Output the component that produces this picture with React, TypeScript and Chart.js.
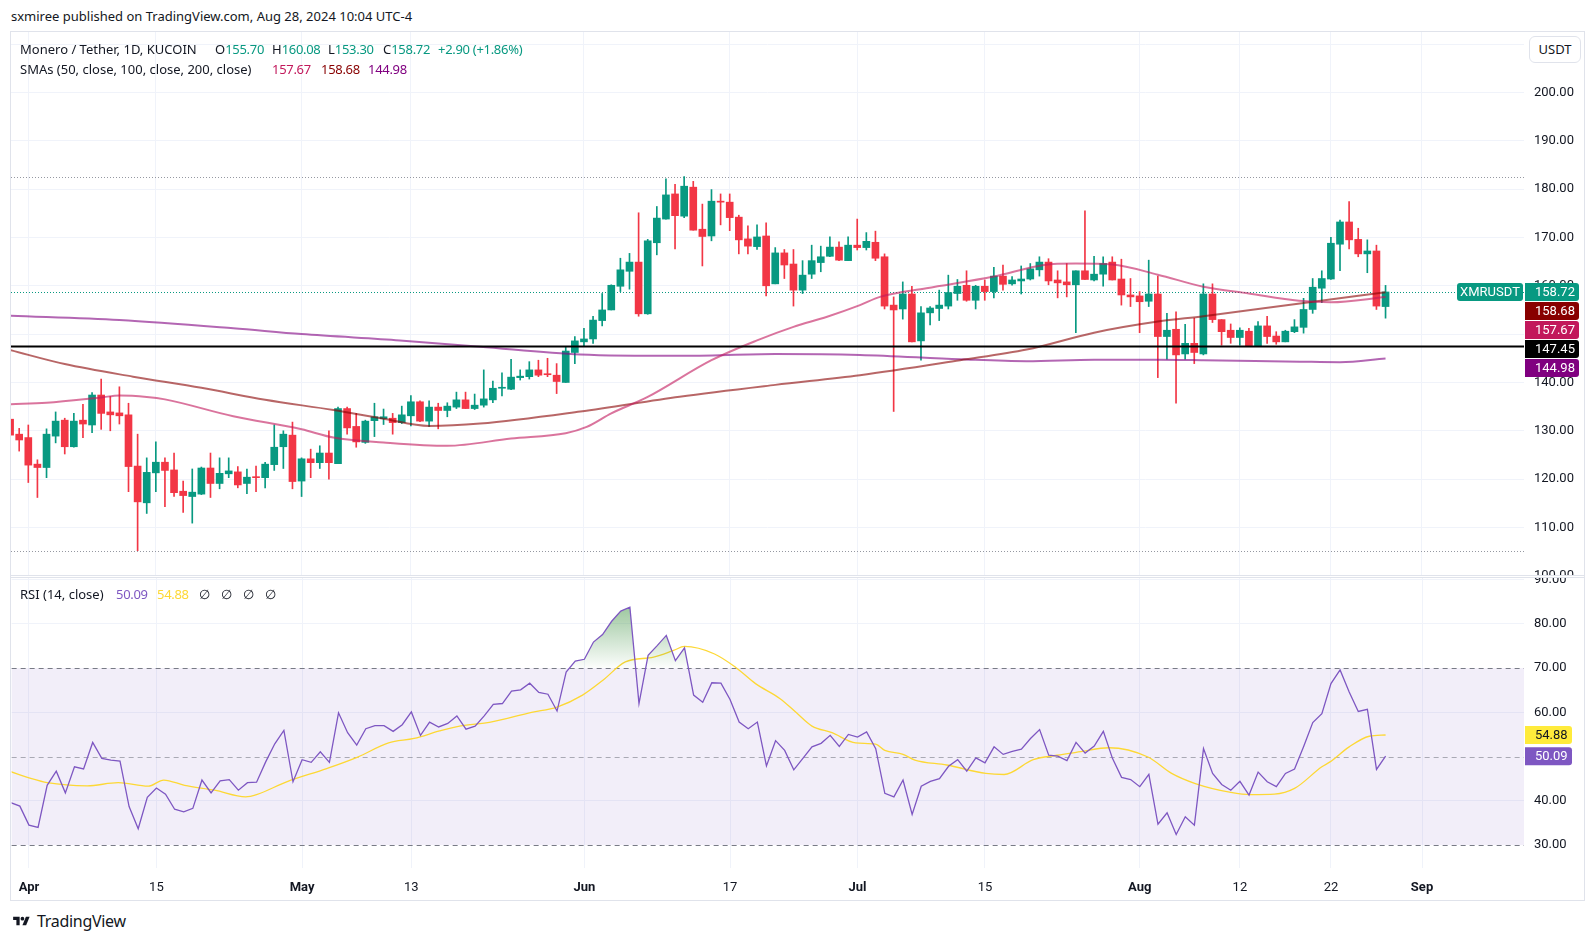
import React, { useEffect, useRef } from "react";
import { Chart, registerables } from "chart.js";

Chart.register(...registerables);

// ---------- data (day index 0 = 2024-03-30) ----------
const START_DATE = "2024-03-30";
const OPEN = [
  132.4, 129.3, 128.6, 123.1, 122.4, 128.9, 132.2, 126.7, 132.2, 131.2,
  137.4, 133.9, 133.7, 133.3, 122.7, 115.1, 121.3, 123.5, 121.9, 117.5,
  116.4, 116.9, 122.3, 119.1, 121.1, 121.5, 119.1, 120.4, 120.3, 123.0,
  126.7, 129.1, 119.6, 124.2, 123.4, 125.4, 123.2, 134.6, 130.9, 127.6,
  132.1, 132.5, 132.6, 131.7, 133.1, 136.0, 132.0, 134.9, 134.2, 134.9,
  136.4, 134.6, 135.3, 136.4, 138.8, 138.6, 141.0, 141.2, 142.6, 141.7,
  141.5, 140.0, 146.2, 148.4, 149.0, 152.8, 155.0, 159.9, 163.0, 164.9,
  154.2, 168.9, 173.8, 179.0, 174.4, 180.4, 171.7, 170.3, 177.5, 177.3,
  174.2, 169.7, 168.1, 170.3, 160.4, 166.8, 164.5, 159.1, 162.4, 164.8,
  166.1, 168.0, 165.2, 168.4, 167.9, 169.0, 166.0, 156.0, 155.2, 158.3,
  148.6, 154.4, 155.3, 155.8, 158.4, 160.1, 157.0, 159.9, 158.8, 162.0,
  160.4, 161.0, 161.4, 163.3, 164.9, 161.2, 160.8, 160.2, 163.1, 161.2,
  162.4, 164.9, 161.4, 158.1, 157.9, 156.8, 158.3, 149.5, 151.0, 145.9,
  148.1, 145.9, 158.3, 153.0, 150.8, 149.3, 150.6, 147.6, 151.7, 149.6,
  148.4, 150.5, 151.4, 155.1, 159.5, 161.4, 168.6, 173.2, 169.6, 166.6,
  167.2, 155.7,
];
const HIGH = [
  132.6, 130.5, 131.2, 124.0, 130.4, 133.9, 132.6, 133.6, 135.5, 137.9,
  140.7, 137.1, 139.1, 135.7, 129.3, 124.4, 127.7, 124.4, 125.4, 119.6,
  122.1, 122.5, 125.4, 124.4, 124.4, 122.6, 122.1, 122.7, 123.5, 131.2,
  130.0, 131.8, 124.4, 126.2, 126.9, 130.0, 134.9, 134.9, 133.6, 132.2,
  135.7, 134.5, 133.6, 135.1, 137.3, 136.2, 136.2, 135.7, 135.8, 138.0,
  138.0, 137.6, 142.6, 140.3, 142.0, 144.8, 142.6, 144.3, 144.6, 145.0,
  143.9, 147.4, 149.5, 151.2, 153.7, 158.4, 160.2, 165.7, 166.7, 175.1,
  169.6, 176.4, 182.1, 181.0, 182.6, 181.6, 176.9, 179.9, 179.0, 179.0,
  174.6, 172.4, 172.6, 173.0, 167.9, 167.5, 167.5, 165.2, 168.4, 168.2,
  170.1, 169.1, 170.1, 173.8, 171.0, 171.3, 166.6, 157.7, 160.8, 159.9,
  155.7, 155.7, 159.1, 162.2, 161.3, 163.1, 160.1, 161.2, 163.8, 164.3,
  161.9, 164.1, 164.6, 166.0, 165.6, 163.1, 164.6, 163.1, 175.5, 166.1,
  166.0, 166.0, 165.5, 161.5, 158.8, 165.3, 162.0, 154.3, 154.6, 152.0,
  153.3, 160.4, 160.4, 153.0, 152.1, 151.3, 151.2, 152.6, 153.7, 150.5,
  150.8, 153.0, 157.4, 161.5, 163.1, 170.0, 173.6, 177.4, 171.9, 169.5,
  168.4, 160.08,
];
const LOW = [
  128.9, 125.8, 119.3, 116.2, 120.3, 127.5, 125.2, 126.6, 128.6, 129.6,
  130.3, 130.0, 131.4, 117.4, 105.2, 112.9, 117.4, 114.3, 116.4, 113.1,
  110.9, 116.8, 116.2, 118.0, 120.3, 118.2, 117.0, 117.4, 118.2, 121.8,
  122.2, 118.0, 116.4, 120.3, 122.2, 120.0, 123.2, 129.3, 126.6, 127.4,
  128.8, 131.3, 129.3, 131.5, 131.0, 131.9, 130.9, 130.4, 132.9, 134.6,
  134.6, 134.4, 134.9, 135.8, 137.2, 138.5, 140.5, 140.7, 141.2, 141.2,
  137.7, 140.0, 143.9, 147.4, 148.1, 151.7, 155.0, 158.8, 159.3, 153.7,
  154.1, 166.4, 173.8, 167.6, 174.1, 171.5, 164.1, 169.3, 172.6, 171.4,
  166.6, 166.6, 167.5, 157.9, 160.4, 161.5, 155.8, 158.4, 161.5, 162.9,
  166.0, 165.2, 165.2, 167.4, 167.4, 165.2, 155.2, 134.0, 153.1, 148.4,
  144.6, 151.9, 152.8, 155.2, 157.0, 156.8, 155.2, 157.0, 157.5, 159.1,
  160.1, 158.3, 161.2, 162.0, 160.2, 157.5, 157.7, 150.3, 161.3, 161.0,
  159.9, 161.2, 156.0, 155.7, 150.3, 155.7, 141.0, 144.8, 135.7, 144.8,
  143.9, 145.7, 152.4, 147.7, 148.1, 147.7, 147.6, 147.6, 148.1, 147.9,
  148.4, 150.3, 150.2, 154.3, 156.5, 161.3, 163.1, 167.6, 166.0, 162.7,
  155.1, 153.3,
];
const CLOSE = [
  129.1, 128.1, 122.9, 122.4, 129.3, 132.0, 126.7, 132.0, 131.4, 137.4,
  133.6, 133.3, 133.1, 122.6, 115.3, 121.4, 123.5, 121.8, 117.2, 116.6,
  117.3, 122.3, 119.1, 121.2, 121.7, 118.8, 120.4, 120.3, 123.1, 126.6,
  129.3, 119.5, 124.2, 123.4, 125.4, 123.4, 134.6, 130.6, 127.7, 132.0,
  132.9, 132.9, 131.7, 133.3, 136.0, 132.0, 134.9, 134.2, 135.1, 136.4,
  134.6, 135.3, 136.6, 138.8, 139.0, 141.1, 141.3, 142.6, 141.5, 141.6,
  140.2, 146.5, 148.6, 149.0, 152.9, 155.0, 160.1, 163.3, 164.9, 154.2,
  169.3, 174.0, 178.8, 174.5, 180.6, 171.5, 170.2, 177.5, 177.3, 174.1,
  169.5, 168.2, 170.1, 160.0, 166.8, 164.3, 159.1, 162.2, 165.2, 166.0,
  168.0, 165.3, 168.4, 167.9, 169.2, 165.7, 155.8, 155.0, 158.3, 148.4,
  154.4, 155.4, 156.0, 158.6, 159.9, 157.0, 159.9, 158.8, 162.0, 160.3,
  161.2, 161.4, 163.5, 164.9, 161.0, 160.6, 160.2, 163.1, 161.3, 162.4,
  164.6, 161.2, 158.1, 157.7, 156.7, 158.3, 149.5, 150.8, 145.7, 148.1,
  146.2, 158.3, 153.0, 150.5, 149.3, 150.8, 147.6, 151.7, 149.5, 148.4,
  150.6, 151.5, 155.1, 159.7, 161.5, 168.8, 173.2, 169.5, 166.6, 167.2,
  155.8, 158.72,
];

// SMA lines read at sample days: [day, value]
const SMA50 = [
  [0, 135.5], [4, 135.8], [10, 136.9], [12, 137.3], [15, 137.0], [17, 136.5],
  [24.5, 133.0], [32, 130.3], [35.5, 128.6], [41, 127.6], [48, 126.9], [55, 128.4],
  [61, 129.5], [63.3, 130.8], [66, 133.6], [70, 137.0], [77, 144.6], [82, 148.7],
  [86, 151.5], [89.7, 153.6], [93.3, 156.0], [95.5, 157.7], [100.6, 159.5], [108, 161.9],
  [113.5, 164.3], [117, 164.6], [121, 164.4], [126, 162.3], [131, 159.8], [136, 158.4],
  [141.5, 156.9], [145, 156.6], [151, 157.67],
];
const SMA100 = [
  [0, 146.7], [6, 143.8], [13.5, 141.2], [21, 138.9], [28, 136.4], [35.5, 134.3],
  [41, 132.5], [46, 131.0], [51.6, 131.5], [62.6, 134.0], [73.5, 137.05], [84, 139.5],
  [93.3, 141.5], [104.3, 144.6], [111.6, 146.8], [119, 150.3], [126, 152.6], [131, 153.7],
  [141.6, 156.35], [151, 158.68],
];
const SMA200 = [
  [0, 153.8], [12, 152.9], [24.5, 151.2], [32, 150.0], [42.8, 148.7], [51.6, 147.4],
  [62.6, 145.8], [73.5, 145.5], [84, 145.9], [93.3, 145.7], [104.3, 144.8], [111.6, 144.4],
  [119, 144.7], [126, 144.7], [131, 144.6], [141.6, 144.3], [146, 144.2], [151, 144.98],
];

const RSI = [
  39.6, 38.8, 34.5, 34.0, 43.5, 46.7, 41.8, 47.7, 47.2, 53.2,
  49.6, 49.2, 49.0, 38.7, 33.7, 40.8, 42.9, 41.5, 38.1, 37.5,
  38.3, 44.7, 41.8, 44.5, 44.8, 42.4, 44.1, 44.2, 48.8, 52.9,
  55.9, 44.3, 49.3, 48.7, 51.1, 48.7, 59.9, 55.4, 52.6, 56.3,
  57.0, 57.0, 55.7, 57.2, 60.1, 54.8, 57.8, 56.7, 57.5, 59.2,
  56.2, 56.9, 59.2, 61.8, 62.0, 64.8, 65.1, 66.6, 64.5, 64.1,
  60.3, 69.1, 71.6, 72.0, 75.9, 77.6, 80.6, 82.9, 83.8, 62.0,
  72.9, 75.1, 77.4, 71.7, 74.6, 63.9, 62.3, 66.7, 66.6, 62.9,
  57.8, 56.3, 57.8, 47.9, 53.6, 51.4, 47.0, 49.6, 52.2, 53.0,
  54.8, 52.3, 55.0, 54.4, 55.6, 51.8, 41.7, 40.9, 44.7, 36.9,
  43.3, 44.4, 45.0, 47.8, 49.3, 46.7, 49.7, 48.6, 52.2, 50.5,
  51.2, 51.7, 54.1, 56.1, 50.3, 50.1, 49.1, 53.2, 50.8, 52.4,
  55.7, 49.6, 45.3, 44.8, 43.2, 46.0, 34.7, 37.3, 32.4, 36.4,
  34.5, 51.8, 46.2, 43.7, 42.4, 44.4, 41.3, 46.5, 44.3, 43.2,
  46.2, 47.2, 52.3, 57.7, 59.7, 66.5, 69.6, 64.6, 60.2, 60.7,
  47.1, 50.09,
];
const RSI_MA = [
  [0, 46.6], [2.3, 45.0], [4, 44.1], [8.4, 43.4], [11.8, 44.1], [15.1, 43.3],
  [16.8, 44.7], [19.1, 43.5], [22.4, 42.4], [25.8, 40.9], [27, 41.4], [30.3, 44.3],
  [34.7, 47.3], [38.1, 49.9], [41.5, 53.1], [44.3, 54.1], [47.1, 55.8], [49.3, 56.9],
  [52.7, 57.8], [57.2, 60.0], [60, 61.2], [62.8, 63.9], [65, 67.2], [67.5, 71.4],
  [70.6, 72.5], [72.8, 74.0], [74, 74.9], [77.3, 73.2], [79.6, 70.2], [81.8, 66.5],
  [84.5, 63.1], [86.3, 59.9], [88, 56.9], [90.2, 55.4], [92.8, 53.1], [95, 52.8],
  [96, 51.4], [98, 50.5], [99.3, 49.2], [102.8, 48.1], [107.1, 46.2], [109.1, 45.95],
  [112.3, 49.3], [114.9, 50.3], [117.5, 51.1], [120.6, 52.0], [124.9, 49.9], [127.5, 46.2],
  [130.1, 43.9], [134, 41.9], [136.2, 41.4], [138.8, 41.5], [141, 42.8], [144, 47.7],
  [144.9, 48.8], [147, 52.2], [149.2, 54.6], [151, 54.88],
];

const X_TICK_DAYS = [2, 16, 32, 44, 63, 79, 93, 107, 124, 135, 145, 155];
const X_TICK_LABELS = ["Apr", "15", "May", "13", "Jun", "17", "Jul", "15", "Aug", "12", "22", "Sep"];
const X_MONTH_TICKS = ["Apr", "May", "Jun", "Jul", "Aug", "Sep"];
const PRICE_TICKS = [100, 110, 120, 130, 140, 150, 160, 170, 180, 190, 200, 210];
const RSI_TICKS = [30, 40, 50, 60, 70, 80, 90];

const LEVEL_LINE = 147.45;
const RANGE_HIGH = 182.6;
const RANGE_LOW = 105.2;
const LAST_CLOSE = 158.72;
const CHANGE_TEXT = "+2.90 (+1.86%)";
const SMA_LAST = [157.67, 158.68, 144.98];

// ---------- style ----------
const FONT = "Roboto, 'Noto Sans', Arial, sans-serif";
const HTML_FONT = "'Noto Sans', Roboto, Arial, sans-serif";
const UP = "#089981";
const DOWN = "#f23645";
const GRID = "#f0f3fa";
const TEXT = "#131722";
const C50 = "#c2185b";
const C100 = "#880000";
const C200 = "#800080";
const RSI_C = "#7e57c2";
const RSI_MA_C = "#fdd835";

const X_MIN = 0.1;
const X_MAX = 166.2;

const candleColor = (i: number) => (CLOSE[i] >= OPEN[i] ? UP : DOWN);

function xScale(showLabels: boolean) {
  return {
    type: "linear" as const,
    min: X_MIN,
    max: X_MAX,
    offset: false,
    grid: { color: GRID, drawTicks: false, offset: false },
    border: { display: false },
    ticks: {
      display: showLabels,
      autoSkip: false,
      maxRotation: 0,
      padding: 12,
      color: TEXT,
      font: (ctx: any) => ({
        family: FONT,
        size: 13,
        weight: X_MONTH_TICKS.includes(X_TICK_LABELS[ctx.index]) ? "bold" : "normal",
      }),
      callback: (_v: any, idx: number) => X_TICK_LABELS[idx],
    },
    afterBuildTicks: (s: any) => {
      s.ticks = X_TICK_DAYS.map((v) => ({ value: v }));
    },
    afterFit: (s: any) => {
      s.height = showLabels ? 33 : 0;
      s.paddingLeft = 0;
      s.paddingRight = 0;
    },
  };
}

function roundBox(ctx: CanvasRenderingContext2D, x: number, y: number, w: number, h: number, r: number[]) {
  ctx.beginPath();
  if ((ctx as any).roundRect) (ctx as any).roundRect(x, y, w, h, r);
  else ctx.rect(x, y, w, h);
  ctx.fill();
}

function hLine(ctx: CanvasRenderingContext2D, area: any, y: number, color: string, width: number, dash: number[]) {
  ctx.save();
  ctx.strokeStyle = color;
  ctx.lineWidth = width;
  ctx.setLineDash(dash);
  ctx.beginPath();
  ctx.moveTo(area.left, y);
  ctx.lineTo(area.right, y);
  ctx.stroke();
  ctx.restore();
}

function drawStackedLabels(chart: any, scale: any, items: { v: number; text: string; bg: string; fg: string }[], w: number) {
  const ctx: CanvasRenderingContext2D = chart.ctx;
  const area = chart.chartArea;
  const h = 18;
  const gap = 19;
  const sorted = [...items].sort((a, b) => b.v - a.v);
  let prev = -Infinity;
  ctx.save();
  ctx.font = `13px ${FONT}`;
  ctx.textBaseline = "middle";
  ctx.textAlign = "left";
  sorted.forEach((it) => {
    const target = scale.getPixelForValue(it.v);
    const cy = Math.max(target, prev + gap);
    prev = cy;
    ctx.fillStyle = it.bg;
    roundBox(ctx, area.right + 1, cy - h / 2, w, h, [0, 3, 3, 0]);
    ctx.fillStyle = it.fg;
    ctx.fillText(it.text, area.right + 11, cy + 0.5);
  });
  ctx.restore();
}

const priceOverlay = {
  id: "priceOverlay",
  beforeDatasetsDraw(chart: any) {
    const { ctx, chartArea } = chart;
    const y = chart.scales.y;
    hLine(ctx, chartArea, Math.round(y.getPixelForValue(RANGE_HIGH)) + 0.5, "#9598a1", 1, [1, 2]);
    hLine(ctx, chartArea, Math.round(y.getPixelForValue(RANGE_LOW)) + 0.5, "#9598a1", 1, [1, 2]);
    hLine(ctx, chartArea, Math.round(y.getPixelForValue(LAST_CLOSE)) + 0.5, UP, 1, [1, 2]);
  },
  afterDatasetsDraw(chart: any) {
    const { ctx, chartArea } = chart;
    const y = chart.scales.y;
    hLine(ctx, chartArea, y.getPixelForValue(LEVEL_LINE), "#000000", 2, []);
  },
  afterDraw(chart: any) {
    const ctx: CanvasRenderingContext2D = chart.ctx;
    const area = chart.chartArea;
    const y = chart.scales.y;
    const cy = y.getPixelForValue(LAST_CLOSE);
    ctx.save();
    ctx.fillStyle = UP;
    roundBox(ctx, area.right - 67, cy - 9, 66, 18, [3, 3, 3, 3]);
    ctx.fillStyle = "#ffffff";
    ctx.font = `13px ${FONT}`;
    ctx.textAlign = "center";
    ctx.textBaseline = "middle";
    ctx.fillText("XMRUSDT", area.right - 34, cy + 0.5);
    ctx.restore();
    drawStackedLabels(
      chart,
      y,
      [
        { v: LAST_CLOSE, text: LAST_CLOSE.toFixed(2), bg: UP, fg: "#ffffff" },
        { v: SMA_LAST[1], text: SMA_LAST[1].toFixed(2), bg: C100, fg: "#ffffff" },
        { v: SMA_LAST[0], text: SMA_LAST[0].toFixed(2), bg: C50, fg: "#ffffff" },
        { v: LEVEL_LINE, text: LEVEL_LINE.toFixed(2), bg: "#000000", fg: "#ffffff" },
        { v: SMA_LAST[2], text: SMA_LAST[2].toFixed(2), bg: C200, fg: "#ffffff" },
      ],
      54
    );
  },
};

const rsiOverlay = {
  id: "rsiOverlay",
  beforeDatasetsDraw(chart: any) {
    const { ctx, chartArea } = chart;
    const y = chart.scales.y;
    const y70 = y.getPixelForValue(70);
    const y30 = y.getPixelForValue(30);
    ctx.save();
    ctx.fillStyle = "rgba(126,87,194,0.1)";
    ctx.fillRect(chartArea.left, y70, chartArea.right - chartArea.left, y30 - y70);
    ctx.restore();
    hLine(ctx, chartArea, Math.round(y70) + 0.5, "#787b86", 1, [5, 4]);
    hLine(ctx, chartArea, Math.round(y.getPixelForValue(50)) + 0.5, "rgba(120,123,134,0.6)", 1, [5, 4]);
    hLine(ctx, chartArea, Math.round(y30) + 0.5, "#787b86", 1, [5, 4]);
  },
  afterDraw(chart: any) {
    drawStackedLabels(
      chart,
      chart.scales.y,
      [
        { v: RSI_MA[RSI_MA.length - 1][1], text: RSI_MA[RSI_MA.length - 1][1].toFixed(2), bg: "#ffeb3b", fg: "#131722" },
        { v: RSI[RSI.length - 1], text: RSI[RSI.length - 1].toFixed(2), bg: RSI_C, fg: "#ffffff" },
      ],
      47
    );
  },
};

export default function App() {
  const refA = useRef<HTMLCanvasElement>(null);
  const refB = useRef<HTMLCanvasElement>(null);

  useEffect(() => {
    Chart.defaults.font.family = FONT;
    const bodies = OPEN.map((o, i) => ({ x: i, y: [o, CLOSE[i]] }));
    const wicks = HIGH.map((h, i) => ({ x: i, y: [LOW[i], h] }));
    const smaLine = (pts: number[][], color: string) => ({
      type: "line" as const,
      data: pts.map(([x, y]) => ({ x, y })),
      borderColor: color,
      borderWidth: 2,
      pointRadius: 0,
      cubicInterpolationMode: "monotone" as const,
      order: 0,
    });

    const a = new Chart(refA.current!, {
      type: "bar",
      data: {
        datasets: [
          smaLine(SMA50, "rgba(194,24,91,0.6)"),
          smaLine(SMA100, "rgba(136,0,0,0.6)"),
          smaLine(SMA200, "rgba(128,0,128,0.6)"),
          {
            type: "bar",
            data: bodies as any,
            backgroundColor: (c: any) => candleColor(c.dataIndex),
            barThickness: 7,
            grouped: false,
            minBarLength: 1,
            order: 1,
          },
          {
            type: "bar",
            data: wicks as any,
            backgroundColor: (c: any) => candleColor(c.dataIndex),
            barThickness: 1,
            grouped: false,
            order: 2,
          },
        ] as any,
      },
      options: {
        responsive: false,
        animation: false,
        layout: { padding: 0 },
        plugins: { legend: { display: false }, tooltip: { enabled: false } },
        scales: {
          x: xScale(false) as any,
          y: {
            position: "right",
            min: 99.96,
            max: 212.5,
            grid: { color: GRID, drawTicks: false },
            border: { display: false },
            ticks: {
              padding: 10,
              crossAlign: "near",
              color: TEXT,
              font: { family: FONT, size: 13 },
              callback: (v: any) => (v === 210 ? "" : Number(v).toFixed(2)),
            },
            afterBuildTicks: (s: any) => {
              s.ticks = PRICE_TICKS.map((v) => ({ value: v }));
            },
            afterFit: (s: any) => {
              s.width = 61;
              s.paddingTop = 0;
              s.paddingBottom = 0;
            },
          } as any,
        },
      },
      plugins: [priceOverlay],
    });

    const b = new Chart(refB.current!, {
      type: "line",
      data: {
        datasets: [
          {
            data: RSI_MA.map(([x, y]) => ({ x, y })),
            borderColor: RSI_MA_C,
            borderWidth: 1.3,
            pointRadius: 0,
            cubicInterpolationMode: "monotone",
            fill: false,
            order: 1,
          },
          {
            data: RSI.map((y, x) => ({ x, y })),
            borderColor: RSI_C,
            borderWidth: 1.3,
            pointRadius: 0,
            tension: 0,
            fill: { target: { value: 70 }, above: "rgba(76,175,80,0.3)", below: "rgba(0,0,0,0)" },
            order: 0,
          },
        ] as any,
      },
      options: {
        responsive: false,
        animation: false,
        layout: { padding: 0 },
        plugins: { legend: { display: false }, tooltip: { enabled: false } },
        scales: {
          x: xScale(true) as any,
          y: {
            position: "right",
            min: 24.81,
            max: 90.46,
            grid: {
              color: (c: any) => ([30, 50, 70].includes(c.tick?.value) ? "rgba(0,0,0,0)" : GRID),
              drawTicks: false,
            },
            border: { display: false },
            ticks: {
              padding: 10,
              crossAlign: "near",
              color: TEXT,
              font: { family: FONT, size: 13 },
              callback: (v: any) => Number(v).toFixed(2),
            },
            afterBuildTicks: (s: any) => {
              s.ticks = RSI_TICKS.map((v) => ({ value: v }));
            },
            afterFit: (s: any) => {
              s.width = 61;
              s.paddingTop = 0;
              s.paddingBottom = 0;
            },
          } as any,
        },
      },
      plugins: [rsiOverlay],
    });

    const ys: any = b.scales.y;
    const g = b.ctx.createLinearGradient(0, ys.getPixelForValue(84), 0, ys.getPixelForValue(70));
    g.addColorStop(0, "rgba(56,142,60,0.5)");
    g.addColorStop(1, "rgba(56,142,60,0.02)");
    (b.data.datasets[1] as any).fill = { target: { value: 70 }, above: g, below: "rgba(0,0,0,0)" };
    b.update("none");

    return () => {
      a.destroy();
      b.destroy();
    };
  }, []);

  const txt: React.CSSProperties = {
    position: "absolute",
    whiteSpace: "nowrap",
    fontSize: 13,
    lineHeight: "16px",
    color: TEXT,
    fontFamily: HTML_FONT,
  };
  const num: React.CSSProperties = { letterSpacing: -0.3 };

  return (
    <div
      data-start={START_DATE}
      style={{ position: "absolute", left: 0, top: 0, width: 1596, height: 941, background: "#fff", overflow: "hidden", fontFamily: HTML_FONT }}
    >
      <div style={{ ...txt, left: 11, top: 8 }}>sxmiree published on TradingView.com, Aug 28, 2024 10:04 UTC-4</div>
      <div style={{ position: "absolute", left: 10, top: 31, width: 1575, height: 870, border: "1px solid #e0e3eb", boxSizing: "border-box" }} />
      <canvas ref={refA} width={1574} height={544} style={{ position: "absolute", left: 11, top: 32, width: 1574, height: 544 }} />
      <canvas ref={refB} width={1574} height={324} style={{ position: "absolute", left: 11, top: 577, width: 1574, height: 324 }} />
      <div style={{ position: "absolute", left: 11, top: 575, width: 1573, height: 3, borderTop: "1px solid #e0e3eb", borderBottom: "1px solid #e0e3eb", boxSizing: "border-box", background: "#fff" }} />

      {/* main legend */}
      <div style={{ ...txt, left: 20, top: 41 }}>Monero / Tether, 1D, KUCOIN</div>
      <div style={{ ...txt, left: 215, top: 41 }}>O<span style={{ ...num, color: UP }}>{OPEN[OPEN.length - 1].toFixed(2)}</span></div>
      <div style={{ ...txt, left: 272, top: 41 }}>H<span style={{ ...num, color: UP }}>{HIGH[HIGH.length - 1].toFixed(2)}</span></div>
      <div style={{ ...txt, left: 328, top: 41 }}>L<span style={{ ...num, color: UP }}>{LOW[LOW.length - 1].toFixed(2)}</span></div>
      <div style={{ ...txt, left: 383, top: 41 }}>C<span style={{ ...num, color: UP }}>{CLOSE[CLOSE.length - 1].toFixed(2)}</span></div>
      <div style={{ ...txt, ...num, left: 438, top: 41, color: UP }}>{CHANGE_TEXT}</div>
      <div style={{ ...txt, left: 20, top: 61 }}>SMAs (50, close, 100, close, 200, close)</div>
      <div style={{ ...txt, ...num, left: 272, top: 61, color: C50 }}>{SMA_LAST[0].toFixed(2)}</div>
      <div style={{ ...txt, ...num, left: 321, top: 61, color: C100 }}>{SMA_LAST[1].toFixed(2)}</div>
      <div style={{ ...txt, ...num, left: 368, top: 61, color: C200 }}>{SMA_LAST[2].toFixed(2)}</div>

      {/* currency box */}
      <div style={{ position: "absolute", left: 1529, top: 36, width: 52, height: 27, border: "1px solid #e0e3eb", borderRadius: 6, boxSizing: "border-box", fontSize: 13, lineHeight: "25px", textAlign: "center", color: TEXT, background: "#fff", fontFamily: HTML_FONT }}>USDT</div>

      {/* RSI legend */}
      <div style={{ ...txt, left: 20, top: 586 }}>RSI (14, close)</div>
      <div style={{ ...txt, ...num, left: 116, top: 586, color: RSI_C }}>{RSI[RSI.length - 1].toFixed(2)}</div>
      <div style={{ ...txt, ...num, left: 157, top: 586, color: RSI_MA_C }}>{RSI_MA[RSI_MA.length - 1][1].toFixed(2)}</div>
      <div style={{ ...txt, left: 199, top: 586 }}>∅</div>
      <div style={{ ...txt, left: 221, top: 586 }}>∅</div>
      <div style={{ ...txt, left: 243, top: 586 }}>∅</div>
      <div style={{ ...txt, left: 265, top: 586 }}>∅</div>

      {/* footer logo */}
      <div style={{ position: "absolute", left: 12, top: 911, display: "flex", alignItems: "center", color: TEXT }}>
        <svg width="19" height="13" viewBox="0 0 36 28">
          <path d="M14 22H7V11H0V4h14v18z" fill={TEXT} />
          <circle cx="20" cy="8" r="4" fill={TEXT} />
          <path d="M28 22h-8l7.5-18h8L28 22z" fill={TEXT} />
        </svg>
        <span style={{ marginLeft: 6, fontSize: 16, lineHeight: "20px", fontWeight: 400, letterSpacing: -0.3, fontFamily: HTML_FONT }}>TradingView</span>
      </div>
    </div>
  );
}
